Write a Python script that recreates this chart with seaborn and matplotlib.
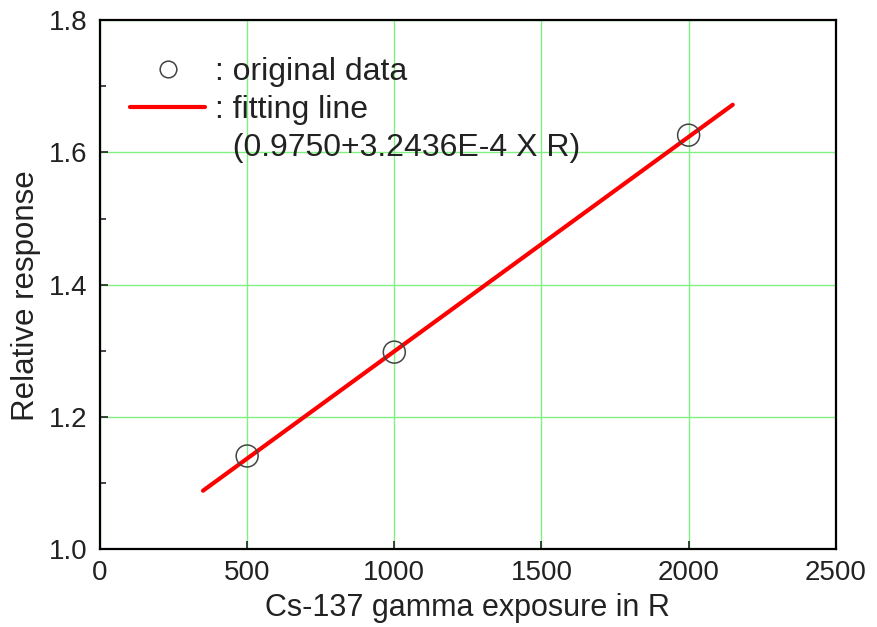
"""Relative response vs Cs-137 gamma exposure, with linear fit."""

import matplotlib

matplotlib.use("Agg")
import matplotlib.pyplot as plt
import pandas as pd
import seaborn as sns
from matplotlib.lines import Line2D
from matplotlib.ticker import MultipleLocator

# measured points
exposure_r = [500, 1000, 2000]
rel_response = [1.141, 1.298, 1.626]

# fitting line end points (0.9750 + 3.2436E-4 X R)
fit_x = [350, 2150]
fit_y = [1.0885, 1.672]

legend_labels = [": original data", ": fitting line", "  (0.9750+3.2436E-4 X R)"]

sns.set_style("white")
plt.rcParams["font.family"] = ["Liberation Sans", "DejaVu Sans"]

df_pts = pd.DataFrame({"x": exposure_r, "y": rel_response})
df_fit = pd.DataFrame({"x": fit_x, "y": fit_y})

fig, ax = plt.subplots(figsize=(8.77, 6.27), dpi=100)
fig.subplots_adjust(left=0.114, right=0.953, top=0.968, bottom=0.124)

sns.lineplot(data=df_fit, x="x", y="y", color="#ff0000", linewidth=3.0,
             ax=ax, zorder=3)
sns.scatterplot(data=df_pts, x="x", y="y", s=250, facecolor="none",
                edgecolor="#444444", linewidth=1.1, ax=ax, zorder=4)

ax.set_xlim(0, 2500)
ax.set_ylim(1.0, 1.8)
ax.xaxis.set_major_locator(MultipleLocator(500))
ax.yaxis.set_major_locator(MultipleLocator(0.2))
ax.yaxis.set_minor_locator(MultipleLocator(0.1))
ax.yaxis.set_major_formatter(plt.FormatStrFormatter("%.1f"))

ax.grid(True, which="major", color="#80f080", linewidth=1.0)
ax.set_axisbelow(True)
for sp in ax.spines.values():
    sp.set_color("black")
    sp.set_linewidth(1.6)

ax.tick_params(axis="both", which="major", direction="in", length=6,
               width=1.2, labelsize=20, colors="#222222")
ax.tick_params(axis="x", which="major", pad=8)
ax.tick_params(axis="y", which="major", pad=9)
ax.tick_params(axis="y", which="minor", direction="in", length=4, width=1.2,
               left=True)
ax.tick_params(axis="x", bottom=True)
ax.tick_params(axis="y", left=True)

ax.set_xlabel("Cs-137 gamma exposure in R", fontsize=22, labelpad=5,
              color="#222222")
ax.set_ylabel("Relative response", fontsize=22.5, labelpad=6, y=0.48,
              color="#222222")

handles = [
    Line2D([], [], linestyle="none", marker="o", markersize=12,
           markerfacecolor="none", markeredgecolor="#444444",
           markeredgewidth=1.1),
    Line2D([], [], color="#ff0000", linewidth=3.0),
    Line2D([], [], linestyle="none"),
]
leg = ax.legend(handles, legend_labels, loc="upper left",
                bbox_to_anchor=(0.041, 0.93), frameon=False, fontsize=23,
                handlelength=2.35, handletextpad=0.3, labelspacing=0.25,
                borderaxespad=0.0, borderpad=0.0)
for t in leg.get_texts():
    t.set_color("#222222")

fig.savefig("out.png", dpi=100)
